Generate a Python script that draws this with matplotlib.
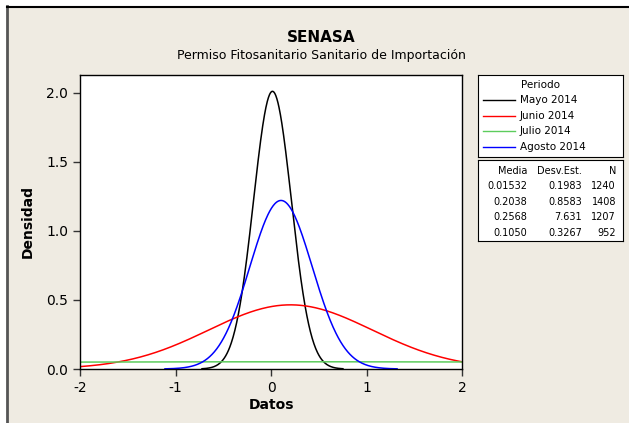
import numpy as np
import matplotlib.pyplot as plt
from matplotlib.patches import Rectangle
from matplotlib.lines import Line2D

# data (Minitab normal fit)
periodos = ["Mayo 2014", "Junio 2014", "Julio 2014", "Agosto 2014"]
colores = ["black", "red", "#5ccc5c", "blue"]
medias = [0.01532, 0.2038, 0.2568, 0.1050]
desv = [0.1983, 0.8583, 7.631, 0.3267]
n_obs = [1240, 1408, 1207, 952]
media_txt = ["0.01532", "0.2038", "0.2568", "0.1050"]
desv_txt = ["0.1983", "0.8583", "7.631", "0.3267"]

W, H = 629, 423
bg = "#efebe2"
plt.rcParams['font.family'] = ['DejaVu Sans']

fig = plt.figure(figsize=(W / 100, H / 100), dpi=100)
fig.patch.set_facecolor("white")


def fx(px):
    return px / W


def fy(py):
    return 1 - py / H


fig.add_artist(Rectangle((fx(7), 0), 1, fy(7), transform=fig.transFigure,
                         facecolor=bg, edgecolor="none", zorder=-10))
fig.add_artist(Line2D([fx(7), fx(7)], [0, fy(6)], transform=fig.transFigure,
                      color="#555555", lw=2))
fig.add_artist(Line2D([fx(7), 1], [fy(7), fy(7)], transform=fig.transFigure,
                      color="black", lw=1.5))

ax = fig.add_axes([fx(80), fy(369), fx(462) - fx(80), fy(75) - fy(369)])
ax.set_facecolor("white")

for m, s, c in zip(medias, desv, colores):
    x = np.linspace(max(m - 3.72 * s, -2), min(m + 3.72 * s, 2), 400)
    y = np.exp(-0.5 * ((x - m) / s) ** 2) / (s * np.sqrt(2 * np.pi))
    ax.plot(x, y, color=c, lw=1.1)

ax.set_xlim(-2, 2)
ax.set_ylim(0, 2.13)
ax.set_xticks([-2, -1, 0, 1, 2])
ax.set_xticklabels(["-2", "-1", "0", "1", "2"])
ax.set_yticks([0, 0.5, 1.0, 1.5, 2.0])
ax.set_yticklabels(["0.0", "0.5", "1.0", "1.5", "2.0"])
ax.tick_params(direction="out", length=5, width=1, labelsize=10, color="#333333")
for sp in ax.spines.values():
    sp.set_linewidth(1)
ax.set_xlabel("Datos", fontsize=10, fontweight="bold", labelpad=2)
ax.set_ylabel("Densidad", fontsize=10, fontweight="bold", labelpad=8)

fig.text(fx(321), fy(37), "SENASA", ha="center", va="center",
         fontsize=11, fontweight="bold")
fig.text(fx(321), fy(55), "Permiso Fitosanitario Sanitario de Importación",
         ha="center", va="center", fontsize=9)

# legend box
lg = fig.add_axes([fx(478), fy(157), fx(623) - fx(478), fy(75) - fy(157)])
lg.set_xlim(478, 623)
lg.set_ylim(157, 75)
lg.set_xticks([])
lg.set_yticks([])
lg.text(540, 85, "Periodo", ha="center", va="center", fontsize=7.5)
for i, (p, c) in enumerate(zip(periodos, colores)):
    yy = 100 + i * 15.7
    lg.plot([483, 515], [yy, yy], color=c, lw=1)
    lg.text(520, yy, p, ha="left", va="center", fontsize=7.5)

# table box
tb = fig.add_axes([fx(478), fy(241), fx(623) - fx(478), fy(160) - fy(241)])
tb.set_xlim(478, 623)
tb.set_ylim(241, 160)
tb.set_xticks([])
tb.set_yticks([])
cols = [527, 582, 616]
for x, h in zip(cols, ["Media", "Desv.Est.", "N"]):
    tb.text(x, 171, h, ha="right", va="center", fontsize=7)
for i in range(len(periodos)):
    yy = 186 + i * 15.7
    row = [media_txt[i], desv_txt[i], str(n_obs[i])]
    for x, t in zip(cols, row):
        tb.text(x, yy, t, ha="right", va="center", fontsize=7)

fig.savefig("out.png", dpi=100, facecolor=fig.get_facecolor())
